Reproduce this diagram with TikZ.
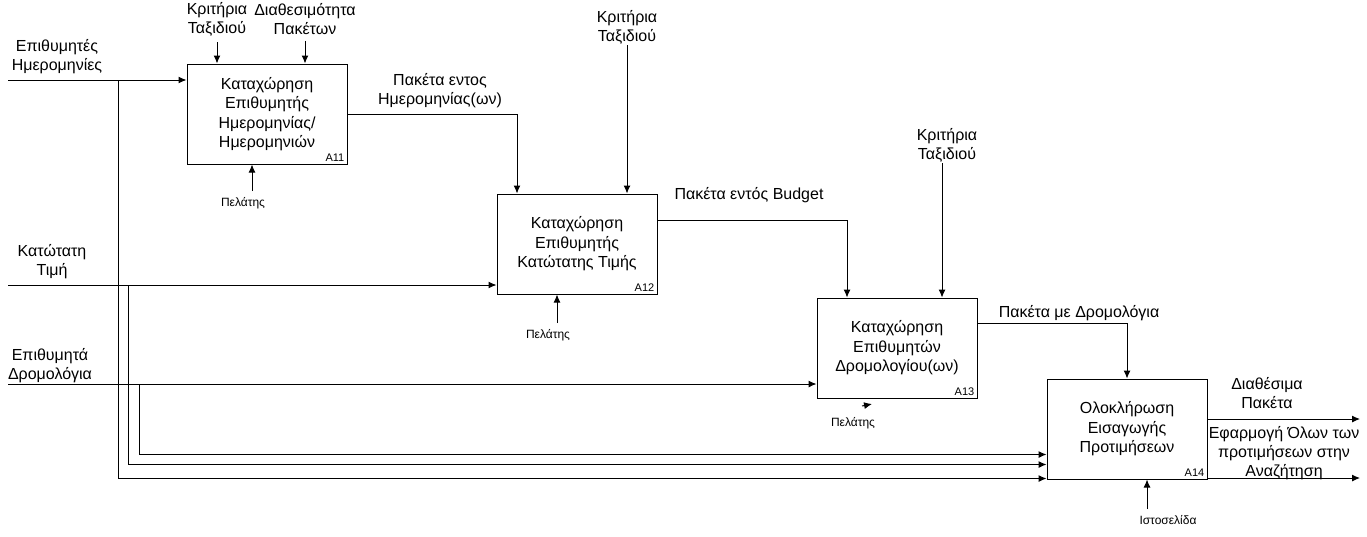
\documentclass[tikz,border=0pt]{standalone}
\usepackage{fontspec}
\setmainfont{Liberation Sans}
\usetikzlibrary{arrows.meta}

\tikzset{
  box/.style={draw, line width=1pt, minimum width=160pt, minimum height=100pt,
    align=center, font=\fontsize{16}{19.5}\selectfont},
  lbl/.style={align=center, font=\fontsize{16}{19}\selectfont, inner sep=1pt},
  small/.style={font=\fontsize{12}{14}\selectfont, inner sep=1pt},
  code/.style={font=\fontsize{11}{13}\selectfont, anchor=south east, inner sep=3pt},
  arr/.style={-{Latex[length=8pt,width=7pt]}, line width=1pt},
}

\begin{document}
\begin{tikzpicture}[x=1pt, y=-1pt]
  \useasboundingbox (0,0) rectangle (1367,536);

  % activity boxes
  \node[box] (a11) at (267,114) {Καταχώρηση\\Επιθυμητής\\Ημερομηνίας/\\Ημερομηνιών};
  \node[box] (a12) at (577,244) {Καταχώρηση\\Επιθυμητής\\Κατώτατης Τιμής};
  \node[box] (a13) at (897,348) {Καταχώρηση\\Επιθυμητών\\Δρομολογίου(ων)};
  \node[box] (a14) at (1127,429) {Ολοκλήρωση\\Εισαγωγής\\Προτιμήσεων};
  \foreach \b/\t in {a11/A11, a12/A12, a13/A13, a14/A14}{
    \node[code] (\b-code) at (\b.south east) {\t};
  }

  % inputs
  \node[lbl] (in1) at (57,57) {Επιθυμητές\\Ημερομηνίες};
  \node[lbl] (in2) at (52,262) {Κατώτατη\\Τιμή};
  \node[lbl] (in3) at (50,366) {Επιθυμητά\\Δρομολόγια};
  \coordinate (s1) at (8,80);
  \coordinate (s2) at (8,285);
  \coordinate (s3) at (8,384);
  \draw[arr] (s1) -- (s1 -| a11.west);
  \draw[arr] (s2) -- (s2 -| a12.west);
  \draw[arr] (s3) -- (s3 -| a13.west);

  % same inputs carried on to A14
  \coordinate (j1) at (118,80);
  \coordinate (j2) at (128,285);
  \coordinate (j3) at (139,384);
  \draw[arr] (j1) |- ([yshift=1pt]a14.south west);
  \draw[arr] (j2) |- ([yshift=15pt]a14.south west);
  \draw[arr] (j3) |- ([yshift=25pt]a14.south west);

  % outputs
  \node[lbl] (o1) at (440,91) {Πακέτα εντος\\Ημερομηνίας(ων)};
  \draw[arr] (a11.east) -| ([xshift=-60pt]a12.north);
  \node[lbl] (o2) at (749,195) {Πακέτα εντός Budget};
  \draw[arr] ([yshift=24pt]a12.east) -| ([xshift=-50pt]a13.north);
  \node[lbl] (o3) at (1079,313) {Πακέτα με Δρομολόγια};
  \draw[arr] ([yshift=25pt]a13.east) -| (a14.north);
  \node[lbl] (o4) at (1267,393) {Διαθέσιμα\\Πακέτα};
  \coordinate (e4) at (1360,419);
  \draw[arr] (a14.east |- e4) -- (e4);
  \node[lbl] (o5) at (1284,453) {Εφαρμογή Όλων των\\προτιμήσεων στην\\Αναζήτηση};
  \coordinate (e5) at (1360,478);
  \draw[arr] (a14.east |- e5) -- (e5);

  % controls
  \node[lbl] (k1) at (217,19) {Κριτήρια\\Ταξιδιού};
  \node[lbl] (k2) at (305,19) {Διαθεσιμότητα\\Πακέτων};
  \node[lbl] (k3) at (627,27) {Κριτήρια\\Ταξιδιού};
  \node[lbl] (k4) at (947,145) {Κριτήρια\\Ταξιδιού};
  \draw[arr, shorten <=5pt] (k1.south) -- (k1.south |- a11.north);
  \draw[arr, shorten <=5pt] (k2.south) -- (k2.south |- a11.north);
  \draw[arr] (k3.south) -- (k3.south |- a12.north);
  \draw[arr] ([xshift=-5pt]k4.south) -- ([xshift=-5pt]k4.south |- a13.north);

  % mechanisms
  \node[small] (m1) at (243,203) {Πελάτης};
  \node[small] (m2) at (548,335) {Πελάτης};
  \node[small] (m3) at (853,423) {Πελάτης};
  \node[small] (m4) at (1168,520) {Ιστοσελίδα};
  \coordinate (c1) at ([xshift=-15pt]a11.south);
  \coordinate (c2) at ([xshift=-20pt]a12.south);
  \coordinate (c4) at ([xshift=20pt]a14.south);
  \draw[arr, shorten <=5pt] (c1 |- m1.north) -- (c1);
  \draw[arr, shorten <=5pt] (c2 |- m2.north) -- (c2);
  \draw[arr, shorten <=5pt] (c4 |- m4.north) -- (c4);
  \coordinate (c3) at (862,406);
  \draw[arr] (c3) -- ++(10,-2);
\end{tikzpicture}
\end{document}
